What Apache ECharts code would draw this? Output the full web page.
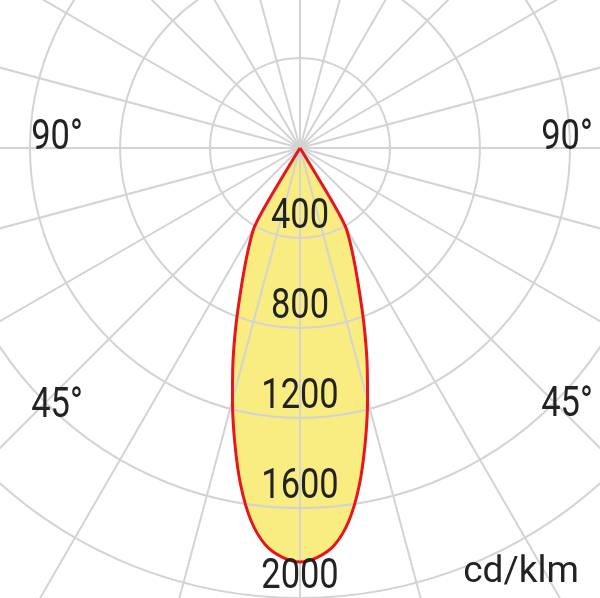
<!DOCTYPE html>
<html>
<head>
<meta charset="utf-8">
<script src="https://cdn.jsdelivr.net/npm/echarts@6/dist/echarts.min.js"></script>
<style>
html,body{margin:0;padding:0;background:#fff;}
#chart{width:600px;height:598px;}
</style>
</head>
<body>
<div id="chart"></div>
<script>
// Luminous intensity (cd/klm) against angle (deg, 0 = straight down)
const angles = [-32.5,-31,-30,-27.5,-25,-22.5,-20,-17.5,-15,-12.5,-10,-7.5,-5,-2.5,0,2.5,5,7.5,10,12.5,15,17.5,20,22.5,25,27.5,30,31,32.5];
const intensity = [0,290,405,490,580,690,830,990,1160,1340,1520,1670,1770,1820,1840,1820,1770,1670,1520,1340,1160,990,830,690,580,490,405,290,0];
// Radial tick labels
const radialTicks = [400,800,1200,1600,2000];
// Angle labels
const angleLabels = ['90°','90°','45°','45°'];
const unitLabel = 'cd/klm';

const curve = angles.map((a,i)=>[intensity[i], a]);

const GRID = '#d3d3d3';
const TXT = '#222222';
const NUMFONT = '42px Roboto, sans-serif';

const chart = echarts.init(document.getElementById('chart'), null, {renderer:'canvas'});
chart.setOption({
  backgroundColor:'#ffffff',
  animation:false,
  polar:[
    {center:[300,148], radius:450},
    {center:[300,148], radius:720}
  ],
  angleAxis:[
    {polarIndex:0, type:'value', min:-180, max:180, interval:15, startAngle:90, clockwise:true,
     axisLine:{show:false}, axisTick:{show:false}, axisLabel:{show:false}, splitLine:{show:false}, z:2},
    {polarIndex:1, type:'value', min:-180, max:180, interval:15, startAngle:90, clockwise:true,
     axisLine:{show:false}, axisTick:{show:false}, axisLabel:{show:false},
     splitLine:{show:true, lineStyle:{color:GRID, width:2}}, z:2}
  ],
  radiusAxis:[
    {polarIndex:0, type:'value', min:0, max:2000, interval:400,
     axisLine:{show:false}, axisTick:{show:false}, axisLabel:{show:false},
     splitLine:{show:true, lineStyle:{color:GRID, width:2}}, z:2},
    {polarIndex:1, type:'value', min:0, max:1,
     axisLine:{show:false}, axisTick:{show:false}, axisLabel:{show:false}, splitLine:{show:false}, z:2}
  ],
  series:[
    {type:'line', coordinateSystem:'polar', polarIndex:0, data:curve, symbol:'none', smooth:0.3,
     lineStyle:{width:0, opacity:0}, areaStyle:{color:'#f9ec80', opacity:1}, z:1},
    {type:'line', coordinateSystem:'polar', polarIndex:0, data:curve, symbol:'none', smooth:0.3,
     lineStyle:{color:'#e8161c', width:3, join:'round'}, z:3}
  ]
});

function txt(text, x, y, font, sx){
  return {type:'text', x:x, y:y, scaleX:sx, z:10,
          style:{text:text, font:font, fill:TXT, align:'center', verticalAlign:'middle'}};
}
const g = [];
radialTicks.forEach(v=>{
  const p = chart.convertToPixel({polarIndex:0}, [v, 0]);
  g.push(txt(String(v), p[0], p[1]-21, NUMFONT, 0.82));
});
g.push(txt(angleLabels[0], 57, 138, NUMFONT, 0.82));
g.push(txt(angleLabels[1], 567, 138, NUMFONT, 0.82));
g.push(txt(angleLabels[2], 57, 406, NUMFONT, 0.82));
g.push(txt(angleLabels[3], 567, 405, NUMFONT, 0.82));
g.push(txt(unitLabel, 521, 573, '37px Roboto, sans-serif', 1));
chart.setOption({graphic:g});
</script>
</body>
</html>
